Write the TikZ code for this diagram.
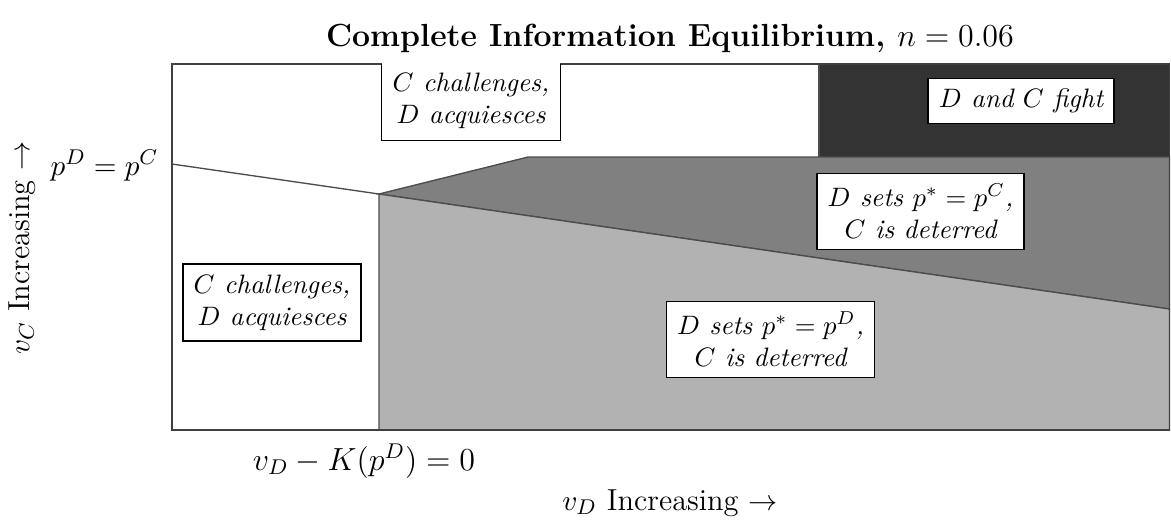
\documentclass[tikz,border=0pt]{standalone}
\begin{document}
\begin{tikzpicture}[x=0.375pt,y=-0.375pt,
  region/.style={draw=black!70, line width=0.5pt},
  lbox/.style={draw=black, fill=white, line width=0.5pt, align=center, font=\itshape, inner sep=4pt},
  axlabel/.style={font=\fontsize{11.4}{14}\selectfont, inner sep=0pt}]
\useasboundingbox (0,0) rectangle (1171,521);
% corner coordinates
\coordinate (tl) at (172,64);
\coordinate (br) at (1169.5,430);
\coordinate (ls) at (172,164);
\coordinate (j) at (379,194);
\coordinate (k) at (528,157);
\coordinate (rk) at (1169.5,157);
\coordinate (rm) at (1169.5,309);
\coordinate (bj) at (379,430);
\coordinate (dk) at (819,64);
% regions
\fill[black!80] (dk) rectangle (rk);
\draw[region] (dk) -- (dk |- rk);
\filldraw[fill=black!50, region] (j) -- (k) -- (rk) -- (rm) -- cycle;
\filldraw[fill=black!30, region] (j) -- (rm) -- (br) -- (bj) -- cycle;
\draw[region] (ls) -- (j);
% frame
\draw[black!75, line width=0.6pt] (tl) rectangle (br);
% boxes
\node[lbox, draw=none, anchor=north] (top) at (471,62) {$C$ challenges,\\ $D$ acquiesces};
\draw[black, line width=0.5pt] (top.west |- tl) -- (top.south west) -- (top.south east) -- (top.east |- tl);
\node[lbox] (left) at (272,302.5) {$C$ challenges,\\ $D$ acquiesces};
\node[lbox] (fight) at (1021,101) {$D$ and $C$ fight};
\node[lbox] (pc) at (920.5,211.5) {$D$ sets $p^*=p^C$,\\ $C$ is deterred};
\node[lbox] (pd) at (770.5,339.5) {$D$ sets $p^*=p^D$,\\ $C$ is deterred};
% labels
\node[font=\large\bfseries] (title) at (670,38) {Complete Information Equilibrium, $n=0.06$};
\node[axlabel, anchor=base east] (pp) at (159,175) {$p^D=p^C$};
\node[axlabel, rotate=90] (ylab) at (22,248) {$v_C$ Increasing $\rightarrow$};
\node[axlabel] (xlab) at (670,503) {$v_D$ Increasing $\rightarrow$};
\node[font=\large, inner sep=0pt] (kd) at (364,461) {$v_D-K(p^D)=0$};
\end{tikzpicture}
\end{document}
